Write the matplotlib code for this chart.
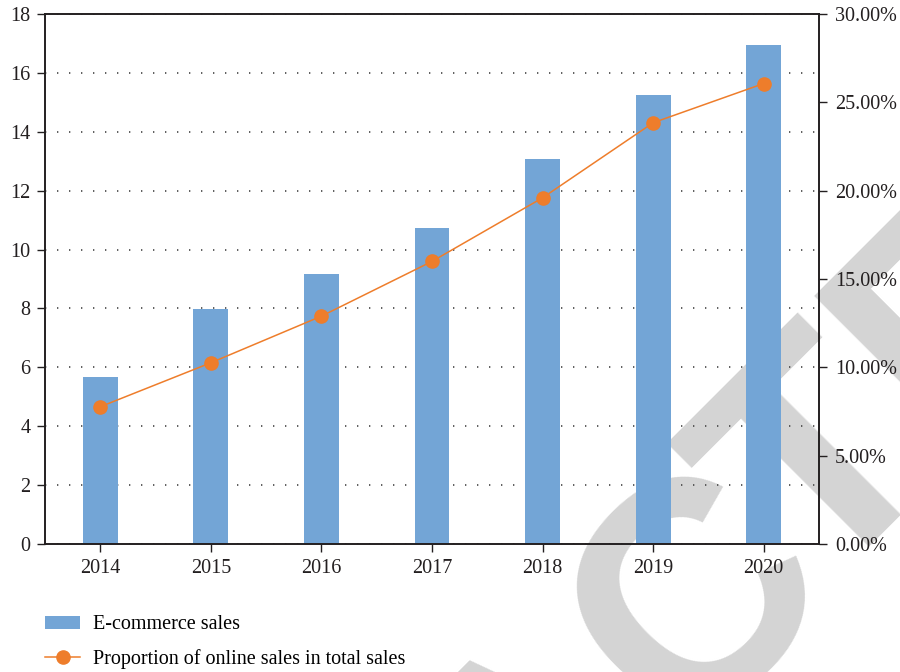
import numpy as np
import matplotlib.pyplot as plt
from matplotlib.ticker import FuncFormatter

years = ["2014", "2015", "2016", "2017", "2018", "2019", "2020"]
ecommerce_sales = [5.67, 7.98, 9.17, 10.73, 13.08, 15.25, 16.95]
online_share = [7.77, 10.26, 12.9, 16.0, 19.6, 23.85, 26.07]  # percent

bar_color = "#73a5d6"
line_color = "#ee7d2b"
ink = "#231f20"

plt.rcParams["font.family"] = ["Liberation Serif", "DejaVu Serif"]
plt.rcParams["font.size"] = 14.5

fig = plt.figure(figsize=(9, 6.72), dpi=100)
ax = fig.add_axes([0.05, 0.1905, 0.86, 0.7885])
ax.set_facecolor("none")

# grey "RETRACTED" stamp behind the chart, set in two runs so the
# letter spacing around the C can be tightened
stamp = dict(fontsize=226, family="Liberation Sans", weight="bold",
             color="#d4d4d4", rotation=45, rotation_mode="anchor",
             va="baseline", zorder=-1)
fig.text(0.9312, 0.142, "RETRAC", ha="right", **stamp)
fig.text(0.9077, 0.1125, "TED", ha="left", **stamp)

x = np.arange(len(years))
bars = ax.bar(x, ecommerce_sales, width=0.315, color=bar_color,
              label="E-commerce sales", zorder=2)

ax.set_xlim(-0.5, len(years) - 0.5)
ax.set_ylim(0, 18)
ax.set_xticks(x)
ax.set_xticklabels(years)
ax.set_yticks(np.arange(0, 19, 2))
ax.set_axisbelow(True)
ax.yaxis.grid(True, color="#444444", linestyle=(0, (0.8, 6.4)), linewidth=1.2)

ax2 = ax.twinx()
line, = ax2.plot(x, np.array(online_share) / 100, color=line_color, linewidth=1.1,
                 marker="o", markersize=9.5,
                 label="Proportion of online sales in total sales")
ax2.set_ylim(0, 0.30)
ax2.set_yticks(np.arange(0, 0.301, 0.05))
ax2.yaxis.set_major_formatter(FuncFormatter(lambda v, _: f"{v * 100:.2f}%"))

for a in (ax, ax2):
    for s in a.spines.values():
        s.set_color(ink)
        s.set_linewidth(1.2)
    a.tick_params(direction="out", length=5.5, width=1.0, color=ink,
                  labelcolor=ink)
ax.tick_params(axis="y", pad=5)
ax.tick_params(axis="x", pad=5)
ax2.tick_params(axis="y", pad=6)

fig.legend(handles=[bars, line], loc="upper left", bbox_to_anchor=(0.05, 0.0845),
           frameon=False, borderpad=0, borderaxespad=0, handlelength=1.75,
           handleheight=0.6, handletextpad=0.65, labelspacing=0.75,
           fontsize=14.5)

fig.savefig("out.png", dpi=100)
